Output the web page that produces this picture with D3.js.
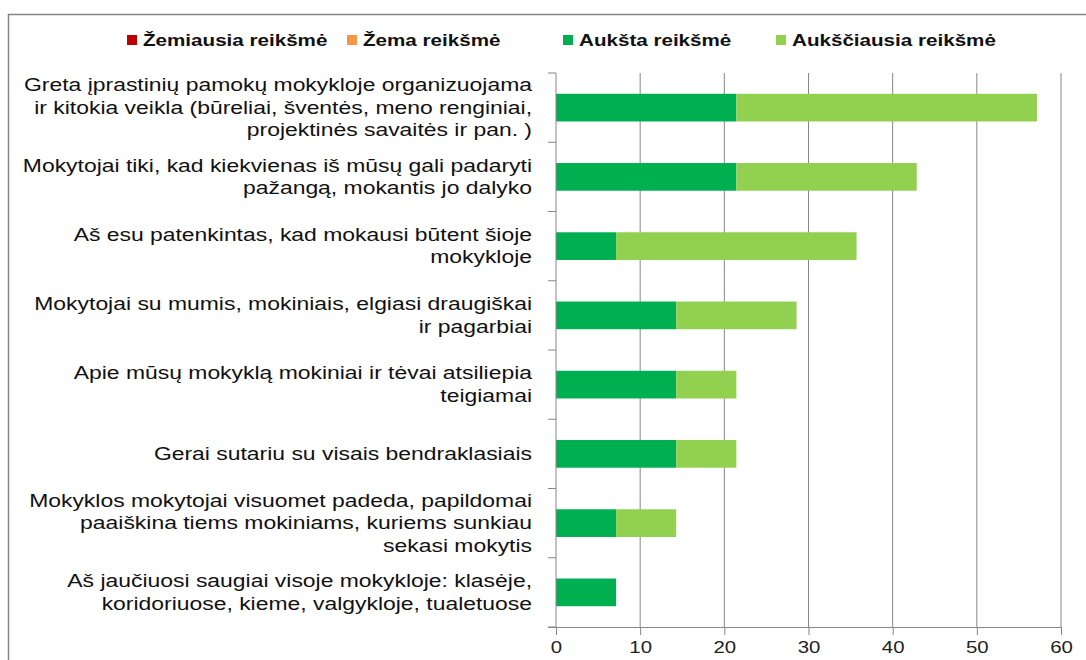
<!DOCTYPE html>
<html><head><meta charset="utf-8">
<script src="https://cdn.jsdelivr.net/npm/d3@7"></script>
<style>body{margin:0;background:#fff}svg{display:block}</style>
</head><body>
<svg id="c" width="1086" height="660"></svg>
<script>
const categories = [
  "Greta įprastinių pamokų mokykloje organizuojama\nir kitokia veikla (būreliai, šventės, meno renginiai,\nprojektinės savaitės ir pan. )",
  "Mokytojai tiki, kad kiekvienas iš mūsų gali padaryti\npažangą, mokantis jo dalyko",
  "Aš esu patenkintas, kad mokausi būtent šioje\nmokykloje",
  "Mokytojai su mumis, mokiniais, elgiasi draugiškai\nir pagarbiai",
  "Apie mūsų mokyklą mokiniai ir tėvai atsiliepia\nteigiamai",
  "Gerai sutariu su visais bendraklasiais",
  "Mokyklos mokytojai visuomet padeda, papildomai\npaaiškina tiems mokiniams, kuriems sunkiau\nsekasi mokytis",
  "Aš jaučiuosi saugiai visoje mokykloje: klasėje,\nkoridoriuose, kieme, valgykloje, tualetuose"
];
const seriesNames = ["Žemiausia reikšmė","Žema reikšmė","Aukšta reikšmė","Aukščiausia reikšmė"];
const seriesColors = ["#C00000","#F79646","#00B050","#92D050"];
const zemiausia = [0,0,0,0,0,0,0,0];
const zema = [0,0,0,0,0,0,0,0];
const auksta = [21.43,21.43,7.14,14.29,14.29,14.29,7.14,7.14];
const aukščiausia = [35.71,21.43,28.57,14.29,7.14,7.14,7.14,0];
const xTicks = [0,10,20,30,40,50,60];

const seriesValues = [zemiausia, zema, auksta, aukščiausia];
const svg = d3.select("#c");
const font = "'Liberation Sans', Arial, sans-serif";

// outer border
svg.append("rect").attr("x",8.5).attr("y",14.5).attr("width",1100).attr("height",700)
  .attr("fill","none").attr("stroke","#868686").attr("stroke-width",1.5);

const x = d3.scaleLinear().domain([0,60]).range([556,1061]);
const y = d3.scaleBand().domain(d3.range(categories.length)).range([73,627]).paddingInner(0.6).paddingOuter(0.3);
const yb = d3.scaleBand().domain(d3.range(categories.length)).range([73,627]);

// gridlines
svg.append("g").selectAll("line").data(xTicks.slice(1)).join("line")
  .attr("x1",d=>x(d)).attr("x2",d=>x(d)).attr("y1",73).attr("y2",627)
  .attr("stroke","#868686").attr("stroke-width",1);

// stacked bars
const table = categories.map((c,i)=>{const o={i}; seriesNames.forEach((s,k)=>o[s]=seriesValues[k][i]); return o;});
const stack = d3.stack().keys(seriesNames)(table);
svg.append("g").selectAll("g").data(stack).join("g")
  .attr("fill",(d,k)=>seriesColors[k])
  .selectAll("rect").data(d=>d).join("rect")
  .attr("x",d=>x(d[0])).attr("width",d=>x(d[1])-x(d[0]))
  .attr("y",d=>y(d.data.i)).attr("height",y.bandwidth());

// y axis
const yAxis = svg.append("g").attr("transform","translate(556,0)");
yAxis.append("line").attr("x1",0).attr("x2",0).attr("y1",73).attr("y2",627).attr("stroke","#868686");
yAxis.selectAll("line.t").data(d3.range(categories.length+1)).join("line").attr("class","t")
  .attr("x1",-8).attr("x2",0).attr("y1",d=>73+d*yb.step()).attr("y2",d=>73+d*yb.step()).attr("stroke","#868686");

// x axis
const xAxis = svg.append("g").attr("transform","translate(0,627)")
  .call(d3.axisBottom(x).tickValues(xTicks).tickSize(8).tickSizeOuter(0).tickPadding(6));
xAxis.select(".domain").attr("stroke","#868686").attr("d","M548,0.5H1061");
xAxis.selectAll(".tick line").attr("stroke","#868686");
xAxis.selectAll(".tick text").attr("font-family",font).attr("font-size",17).attr("fill","#222")
  .attr("transform","scale(1.2,1)").attr("x",0).attr("dy","0.71em");

// category labels
const lab = svg.append("g");
categories.forEach((c,i)=>{
  const lines = c.split("\n");
  const cy = yb(i)+yb.bandwidth()/2;
  const lh = 22.5;
  const t = lab.append("text").attr("font-family",font).attr("font-size",17.5).attr("fill","#111")
    .attr("text-anchor","end").attr("transform","translate(532,0) scale(1.31,1)");
  lines.forEach((l,j)=>{
    t.append("tspan").attr("x",0).attr("y",cy + (j-(lines.length-1)/2)*lh + 6).text(l);
  });
});

// legend
const legX = [127,347,563,776];
const leg = svg.append("g");
seriesNames.forEach((s,k)=>{
  leg.append("rect").attr("x",legX[k]).attr("y",35).attr("width",10).attr("height",10).attr("fill",seriesColors[k]);
  leg.append("text").attr("transform",`translate(${legX[k]+16},46) scale(1.25,1)`).attr("font-family",font).attr("font-weight","bold")
    .attr("font-size",16.5).attr("fill","#111").text(s);
});
</script>
</body></html>
